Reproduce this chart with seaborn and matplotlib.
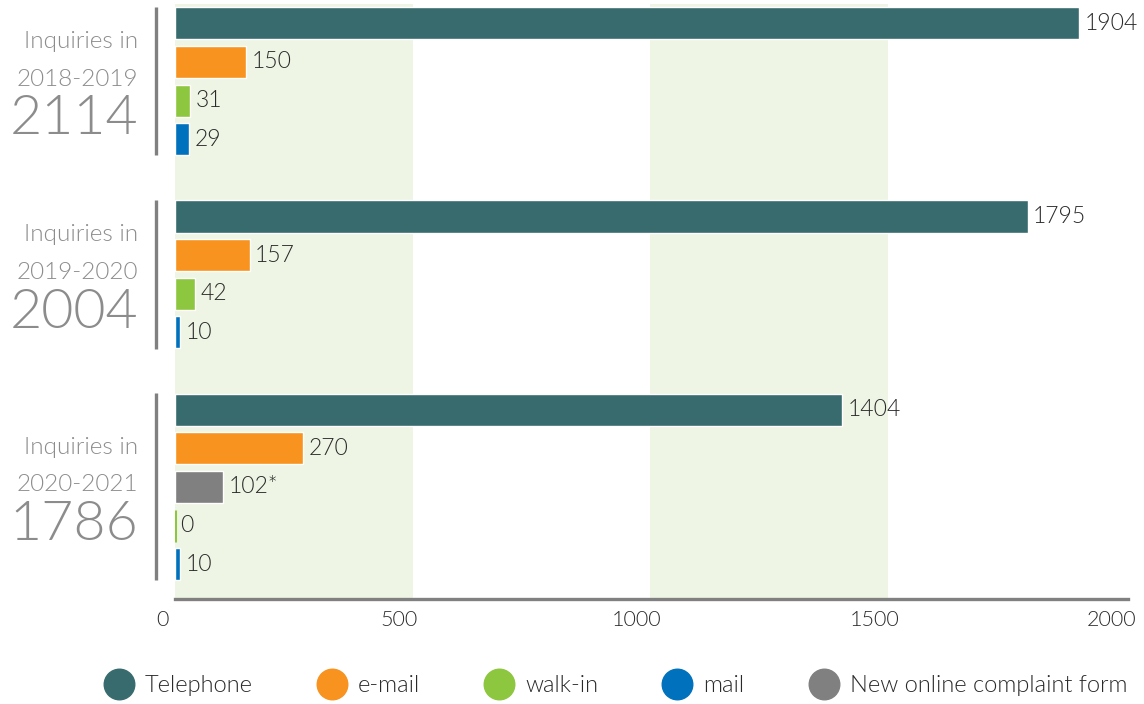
import matplotlib
matplotlib.use("Agg")
import matplotlib.pyplot as plt
import matplotlib.transforms as mtransforms
from matplotlib.lines import Line2D
import seaborn as sns
import pandas as pd

# Inquiries by channel and reporting period
periods = ["2018-2019", "2019-2020", "2020-2021"]
period_totals = [2114, 2004, 1786]
channels = ["Telephone", "e-mail", "walk-in", "mail", "New online complaint form"]
telephone = [1904, 1795, 1404]
email = [150, 157, 270]
walk_in = [31, 42, 0]
mail = [29, 10, 10]
online_form = [None, None, 102]
online_note = "*"
x_ticks = [0, 500, 1000, 1500, 2000]

# row sequence of channels inside each period block
period_rows = [
    ["Telephone", "e-mail", "walk-in", "mail"],
    ["Telephone", "e-mail", "walk-in", "mail"],
    ["Telephone", "e-mail", "New online complaint form", "walk-in", "mail"],
]

palette = {
    "Telephone": "#386B6E",
    "e-mail": "#F7931E",
    "walk-in": "#8DC63F",
    "mail": "#0071BC",
    "New online complaint form": "#808080",
}
band_color = "#EEF5E4"
grey = "#8C8C8C"
text_dark = "#2A2A2A"
font = ["Lato", "DejaVu Sans"]
light = 300

series = {
    "Telephone": telephone,
    "e-mail": email,
    "walk-in": walk_in,
    "mail": mail,
    "New online complaint form": online_form,
}

records = []
order = []
for i, period in enumerate(periods):
    if i > 0:
        order.append(f"gap{i}")
    for ch in period_rows[i]:
        key = f"{period}|{ch}"
        order.append(key)
        records.append({"row": key, "period": period, "channel": ch,
                        "count": series[ch][i]})
df = pd.DataFrame(records)

sns.set_theme(style="white")
plt.rcParams["font.family"] = font

fig = plt.figure(figsize=(11.44, 7.04), dpi=100)
ax = fig.add_axes([175 / 1144, 105 / 704, 950 / 1144, 595 / 704])

# light vertical bands behind the bars
for lo, hi in [(0, 500), (1000, 1500)]:
    ax.axvspan(lo, hi, color=band_color, zorder=0, lw=0)

sns.barplot(data=df, y="row", x="count", hue="channel", order=order,
            hue_order=channels, palette=palette, dodge=False, width=0.83,
            orient="h", saturation=1, legend=False, ax=ax, zorder=2)

# make a zero-length bar visible as a thin stroke
for container in ax.containers:
    for patch in container:
        if patch.get_width() == 0:
            patch.set_edgecolor(patch.get_facecolor())
            patch.set_linewidth(2.2)

# value labels at the end of each bar
for container, ch in zip(ax.containers, channels):
    suffix = online_note if ch == "New online complaint form" else ""
    ax.bar_label(container, fmt=lambda v, s=suffix: f"{v:.0f}{s}", padding=4,
                 fontsize=16.5, color=text_dark, fontfamily=font,
                 fontweight=light)

ax.set_xlim(0, 2000)
ax.set_ylim(14.9, -0.5)
ax.set_xticks(x_ticks)
ax.set_xticklabels([str(t) for t in x_ticks], fontsize=15.5, color=text_dark,
                   fontweight=light)
ax.tick_params(axis="x", length=0, pad=8)
shift = mtransforms.ScaledTranslation(-13 / 100, 0, fig.dpi_scale_trans)
for lbl in ax.get_xticklabels():
    lbl.set_transform(lbl.get_transform() + shift)
ax.set_yticks([])
ax.set_xlabel("")
ax.set_ylabel("")
for side in ["left", "right", "top"]:
    ax.spines[side].set_visible(False)
ax.spines["bottom"].set_color("#808080")
ax.spines["bottom"].set_linewidth(2.4)
ax.spines["bottom"].set_bounds(0, 2006)

# period captions and separators to the left of each block
label_tr = mtransforms.blended_transform_factory(fig.transFigure, ax.transData)
sep_tr = mtransforms.blended_transform_factory(ax.transAxes, ax.transData)
for i, period in enumerate(periods):
    rows = [order.index(f"{period}|{ch}") for ch in period_rows[i]]
    first, last = min(rows), max(rows)
    centre = (first + last) / 2
    ax.plot([-0.02, -0.02], [first - 0.42, last + 0.42], color="#808080",
            lw=2.4, transform=sep_tr, clip_on=False, solid_capstyle="butt")
    xr = 138 / 1144
    ax.annotate("Inquiries in", xy=(xr, centre), xycoords=label_tr,
                xytext=(0, 28.5), textcoords="offset points", ha="right",
                va="center", fontsize=17.5, color=grey, fontweight=light)
    ax.annotate(period, xy=(xr, centre), xycoords=label_tr,
                xytext=(0, 1.5), textcoords="offset points", ha="right",
                va="center", fontsize=17.5, color=grey, fontweight=light)
    ax.annotate(str(period_totals[i]), xy=(xr, centre), xycoords=label_tr,
                xytext=(0, -27.5), textcoords="offset points", ha="right",
                va="center", fontsize=40, color=grey, fontweight=light)

# legend with round markers along the bottom
handles = [Line2D([0], [0], marker="o", ls="", markersize=22,
                  markerfacecolor=palette[ch], markeredgecolor=palette[ch])
           for ch in channels]
fig.legend(handles, channels, loc="center", ncol=5, frameon=False,
           bbox_to_anchor=(616 / 1144, 1 - 686 / 704),
           handlelength=1.2, handletextpad=0.5, columnspacing=2.75,
           labelcolor=text_dark, prop={"weight": light, "size": 17})

fig.savefig("out.png", dpi=100, facecolor="white")
